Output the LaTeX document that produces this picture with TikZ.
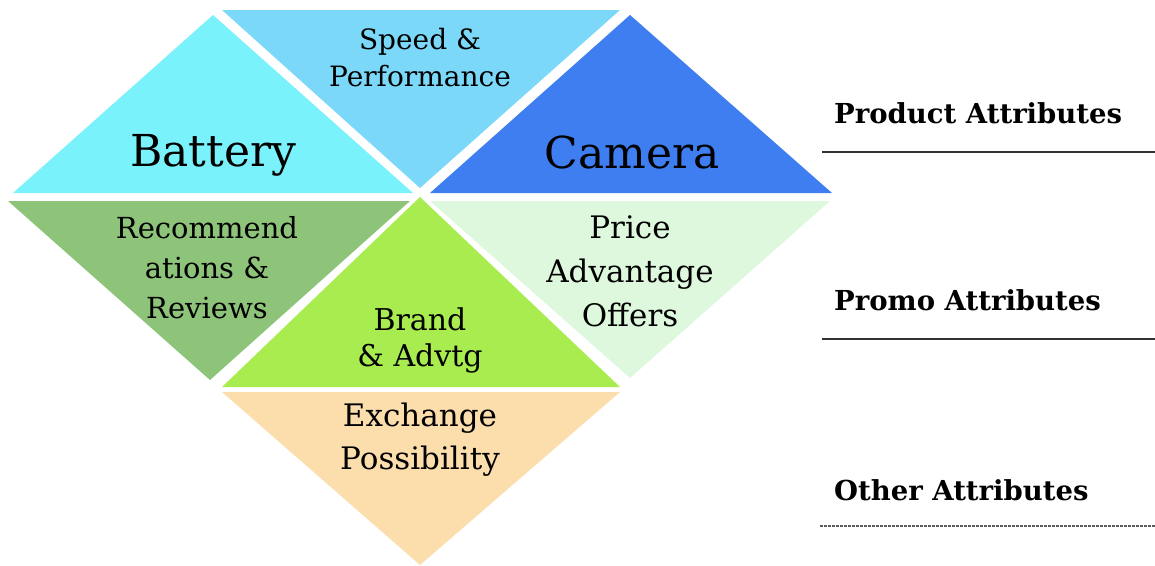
\documentclass[tikz,border=0pt]{standalone}
\usepackage{fontspec}
\setmainfont{DejaVu Serif}
\definecolor{cBattery}{RGB}{122,242,252}
\definecolor{cSpeed}{RGB}{124,216,248}
\definecolor{cCamera}{RGB}{62,126,240}
\definecolor{cReco}{RGB}{142,196,122}
\definecolor{cBrand}{RGB}{168,236,80}
\definecolor{cPrice}{RGB}{222,248,222}
\definecolor{cExch}{RGB}{252,221,172}
\definecolor{cRule}{RGB}{50,50,50}
\tikzset{
  tri/.style={draw=none},
  big/.style={font=\fontsize{44}{48}\selectfont, inner sep=0pt},
  mid/.style={font=\fontsize{29}{40}\selectfont, inner sep=0pt, align=center},
  attr/.style={font=\fontsize{27.5}{30}\selectfont\bfseries, anchor=west, inner sep=0pt},
  rule/.style={draw=cRule, line width=1.8pt},
  dashrule/.style={draw=cRule!80, line width=1.2pt, dash pattern=on 2.5pt off 1.5pt}
}
\begin{document}
\begin{tikzpicture}[x=1pt,y=-1pt]
\useasboundingbox (0,0) rectangle (1155,565);
% triangles
\fill[cBattery] (13,193) -- (213,15) -- (413,193) -- cycle;
\fill[cSpeed] (222,10) -- (620,10) -- (420,188) -- cycle;
\fill[cCamera] (430,193) -- (630,15) -- (832,193) -- cycle;
\fill[cReco] (8,201) -- (410,201) -- (210,380) -- cycle;
\fill[cBrand] (222,387) -- (420,197) -- (620,387) -- cycle;
\fill[cPrice] (430,201) -- (830,201) -- (630,378) -- cycle;
\fill[cExch] (222,392) -- (620,392) -- (420,565) -- cycle;
% texts
\node[mid, font=\fontsize{28}{37}\selectfont] (speed) at (420,58) {Speed \&\\Performance};
\node[big] (battery) at (213,155) {Battery};
\node[big] (camera) at (632,152) {Camera};
\node[mid] (reco) at (207,268) {Recommend\\ations \&\\Reviews};
\node[mid, font=\fontsize{30}{36}\selectfont] (brand) at (420,340) {Brand\\\& Advtg};
\node[mid, font=\fontsize{31}{44}\selectfont] (price) at (630,271) {Price\\Advantage\\Offers};
\node[mid, font=\fontsize{31}{43}\selectfont] (exch) at (420,440) {Exchange\\Possibility};
% right labels
\node[attr] (prod) at (834,113) {Product Attributes};
\node[attr] (promo) at (834,300) {Promo Attributes};
\node[attr] (other) at (834,490) {Other Attributes};
\coordinate (l1a) at (822,152); \coordinate (l1b) at (1155,152);
\coordinate (l2a) at (822,339); \coordinate (l2b) at (1155,339);
\coordinate (l3a) at (820,526); \coordinate (l3b) at (1155,526);
\draw[rule] (l1a) -- (l1b);
\draw[rule] (l2a) -- (l2b);
\draw[dashrule] (l3a) -- (l3b);
\end{tikzpicture}
\end{document}
